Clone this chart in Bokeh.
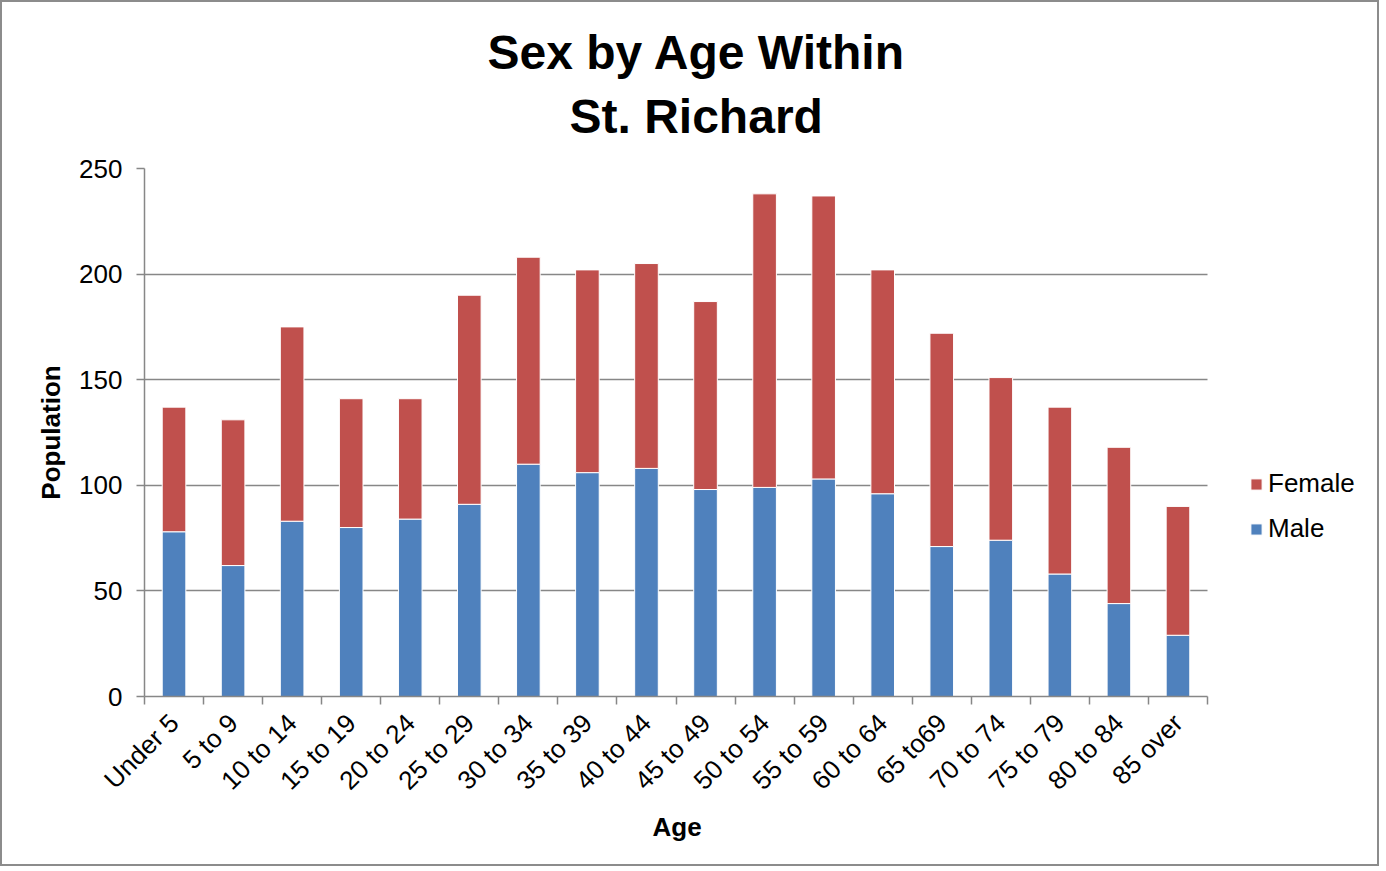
import math
from bokeh.plotting import figure
from bokeh.models import Range1d, FixedTicker, Legend, LegendItem, Title, ColumnDataSource
from bokeh.embed import file_html
from bokeh.resources import INLINE

categories = ["Under 5", "5 to 9", "10 to 14", "15 to 19", "20 to 24", "25 to 29",
              "30 to 34", "35 to 39", "40 to 44", "45 to 49", "50 to 54", "55 to 59",
              "60 to 64", "65 to69", "70 to 74", "75 to 79", "80 to 84", "85 over"]
male = [78, 62, 83, 80, 84, 91, 110, 106, 108, 98, 99, 103, 96, 71, 74, 58, 44, 29]
female = [59, 69, 92, 61, 57, 99, 98, 96, 97, 89, 139, 134, 106, 101, 77, 79, 74, 61]
y_ticks = [0, 50, 100, 150, 200, 250]

FONT = "Liberation Sans"
GRAY = "#878787"
BLUE = "#4F81BD"
RED = "#C0504D"

# layout (pixels)
W, H = 1379, 866
LEFT, RIGHT, TOP, BOTTOM = 142, 4, 166, 172
DATA_W = 1063  # pixel width occupied by the categories

n = len(categories)
centers = [2 * i + 1 for i in range(n)]
bounds = [2 * i for i in range(n + 1)]
x_end = 2 * n * (W - LEFT - RIGHT) / DATA_W

source = ColumnDataSource(dict(x=centers, Male=male, Female=female))

p = figure(width=W, height=H, output_backend="svg", toolbar_location=None,
           x_range=Range1d(0, x_end), y_range=Range1d(0, 250), title=None,
           min_border_left=LEFT, min_border_right=RIGHT, min_border_top=TOP,
           min_border_bottom=BOTTOM)
p.styles = {"border": "2px solid #8c8c8c"}
p.outline_line_color = None
p.background_fill_color = "white"
p.border_fill_color = "white"

renderers = p.vbar_stack(["Male", "Female"], x="x", width=0.8, source=source,
                         color=[BLUE, RED], line_color="white", line_width=1)

# Titles (added closest-first)
p.add_layout(Title(text=" ", text_font=FONT, text_font_size="12px", standoff=3), "above")
p.add_layout(Title(text="St. Richard", text_font=FONT, text_font_size="48px",
                   text_font_style="bold", text_color="black", align="left",
                   offset=425, standoff=13), "above")
p.add_layout(Title(text="Sex by Age Within", text_font=FONT, text_font_size="48px",
                   text_font_style="bold", text_color="black", align="left",
                   offset=343, standoff=5), "above")

# Y axis
p.yaxis.ticker = FixedTicker(ticks=y_ticks)
p.yaxis.axis_line_color = GRAY
p.yaxis.axis_line_width = 1.5
p.yaxis.major_tick_line_color = GRAY
p.yaxis.major_tick_line_width = 1.5
p.yaxis.major_tick_out = 8
p.yaxis.major_tick_in = 0
p.yaxis.minor_tick_line_color = None
p.yaxis.major_label_text_font = FONT
p.yaxis.major_label_text_font_size = "26px"
p.yaxis.major_label_text_color = "black"
p.yaxis.major_label_standoff = 14
p.yaxis.axis_label = "Population"
p.yaxis.axis_label_text_font = FONT
p.yaxis.axis_label_text_font_size = "26px"
p.yaxis.axis_label_text_font_style = "bold"
p.yaxis.axis_label_text_color = "black"
p.yaxis.axis_label_standoff = 10

# X axis
p.xaxis.bounds = (0, 2 * n)
p.xaxis.ticker = FixedTicker(ticks=centers, minor_ticks=bounds)
p.xaxis.major_label_overrides = dict(zip(centers, categories))
p.xaxis.axis_line_color = GRAY
p.xaxis.axis_line_width = 1.5
p.xaxis.major_tick_line_color = None
p.xaxis.major_tick_out = 0
p.xaxis.major_tick_in = 0
p.xaxis.minor_tick_line_color = GRAY
p.xaxis.minor_tick_line_width = 1.5
p.xaxis.minor_tick_out = 8
p.xaxis.minor_tick_in = 0
p.xaxis.major_label_orientation = math.pi / 4
p.xaxis.major_label_text_font = FONT
p.xaxis.major_label_text_font_size = "26px"
p.xaxis.major_label_text_color = "black"
p.xaxis.major_label_standoff = 14

# x axis title, centred under the category area
p.add_layout(Title(text="Age", text_font=FONT, text_font_size="26px",
                   text_font_style="bold", text_color="black", align="left",
                   offset=508, standoff=0), "below")

# Grid
p.xgrid.visible = False
p.ygrid.grid_line_color = GRAY
p.ygrid.grid_line_width = 1.5
p.ygrid.cross_bounds = (0, 2 * n)

legend = Legend(items=[LegendItem(label="Female", renderers=[renderers[1]]),
                       LegendItem(label="Male", renderers=[renderers[0]])],
                location=(1105, 152), border_line_color=None, background_fill_alpha=0,
                label_text_font=FONT, label_text_font_size="26px", label_text_color="black",
                glyph_width=14, glyph_height=14, label_standoff=5, spacing=14,
                padding=0, margin=0)
p.add_layout(legend, "center")

open("out.html", "w").write(file_html(p, INLINE))
